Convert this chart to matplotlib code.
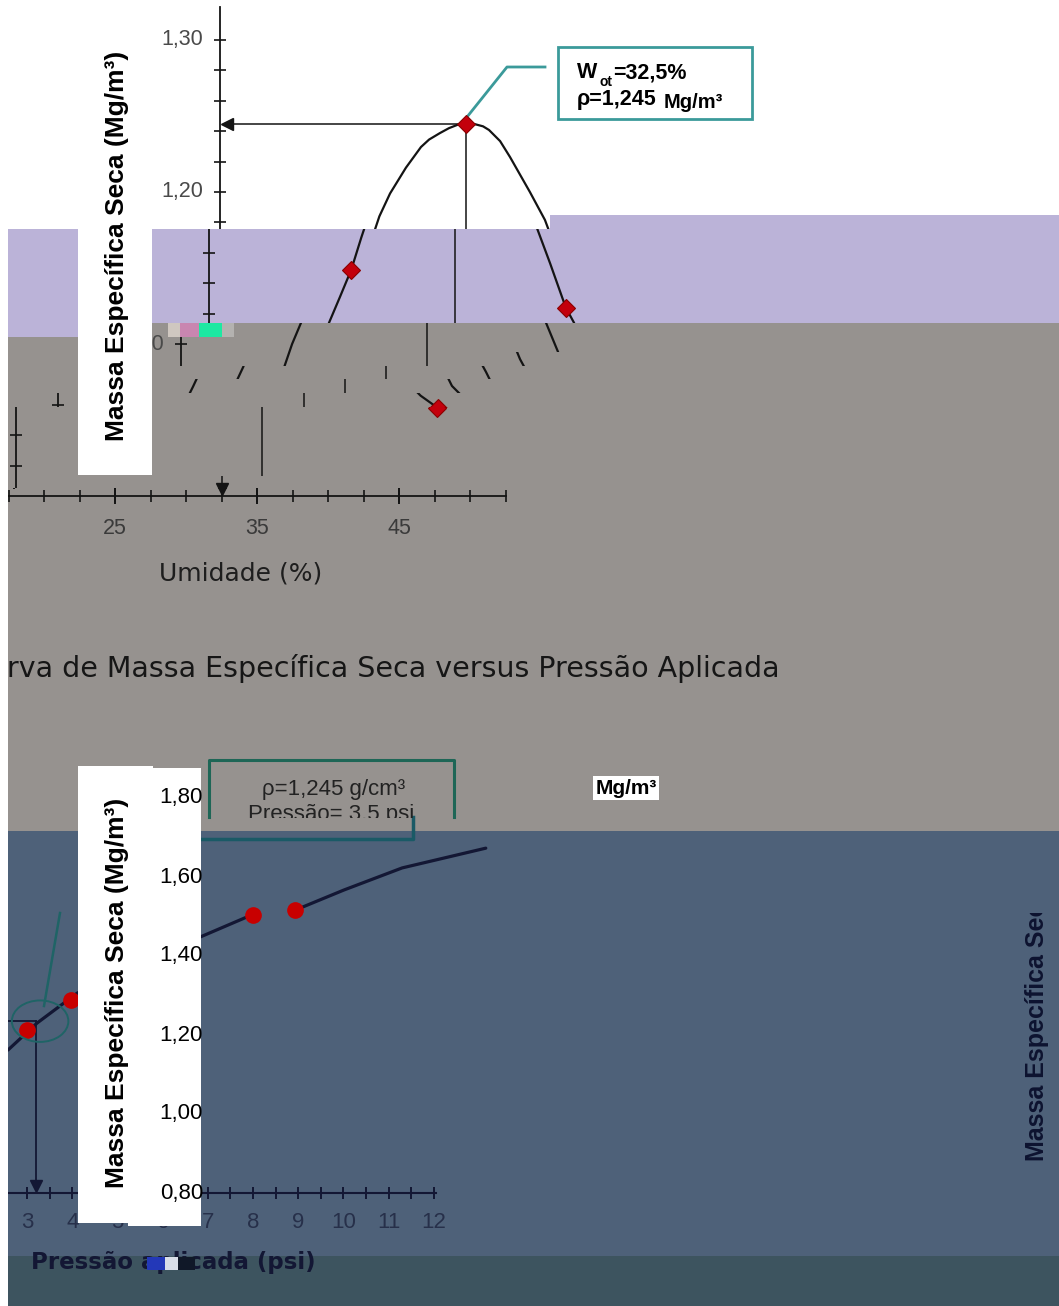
import numpy as np
import matplotlib
matplotlib.use("Agg")
import matplotlib.pyplot as plt
from matplotlib.patches import Rectangle, Ellipse
from matplotlib.transforms import blended_transform_factory

plt.rcParams['font.family'] = ['Liberation Sans', 'DejaVu Sans']

# ---------------- data ----------------
# Compaction curve (Umidade % vs Massa especifica seca Mg/m3)
umidade_pts = [21.0, 25.2, 32.5, 40.3, 44.8]
massa_pts = [1.057, 1.149, 1.245, 1.124, 1.058]
curva_umidade = [21.0, 21.8, 22.45, 23.0, 23.63, 24.4, 25.2, 25.9, 26.4, 27.15,
                 28.27, 29.33, 29.9, 30.67, 31.3, 31.9, 32.5, 33.1, 33.7, 34.12,
                 34.9, 35.6, 37.0, 38.06, 39.2, 40.3, 40.88, 41.94, 42.43, 42.92,
                 43.6, 44.8]
curva_massa = [1.057, 1.072, 1.085, 1.100, 1.114, 1.131, 1.149, 1.170, 1.184, 1.199,
               1.216, 1.2296, 1.2345, 1.2388, 1.2420, 1.2442, 1.245, 1.2447, 1.2432, 1.2408,
               1.2335, 1.223, 1.200, 1.1816, 1.153, 1.124, 1.114, 1.090, 1.0816, 1.0724,
               1.066, 1.058]
umidade_ot = 32.5
massa_max = 1.245
eixo_y_umidade = 15.2
umidade_fim = 52.5
umidade_ticks = [17.5, 20, 22.5, 25, 27.5, 30, 32.5, 35, 37.5, 40, 42.5, 45, 47.5, 50, 52.5]
umidade_labels = [15, 25, 35, 45]
massa_ticks = [1.00, 1.02, 1.04, 1.06, 1.08, 1.10, 1.12, 1.14, 1.16, 1.18, 1.20,
               1.22, 1.24, 1.26, 1.28, 1.30]
massa_labels = [1.00, 1.10, 1.20, 1.30]

# Pressure curve (Pressao aplicada psi vs Massa especifica seca)
pressao_pts = [3.0, 3.97, 8.0, 8.93]
massa_p_pts = [1.213, 1.289, 1.504, 1.516]
curva_pressao = [2.58, 3.22, 4.11, 6.83, 7.87, 8.05, np.nan, 8.93, 9.48, 10.01, 11.3, 13.15]
curva_massa_p = [1.162, 1.230, 1.306, 1.448, 1.499, 1.505, np.nan, 1.516, 1.542, 1.567,
                 1.623, 1.673]
pressao_ref = 3.2
massa_ref_p = 1.235
pressao_ticks = [2.5, 3, 3.5, 4, 4.5, 5, 5.5, 6, 6.5, 7, 7.5, 8, 8.5, 9, 9.5,
                 10, 10.5, 11, 11.5, 12]
pressao_labels = [3, 4, 5, 6, 7, 8, 9, 10, 11, 12]
massa_p_labels = [0.80, 1.00, 1.20, 1.40, 1.60, 1.80]

# ---------------- layout ----------------
W, H = 1059, 1306
GRAY = '#96928f'
LAV = '#bbb3d8'
BLUE = '#4e6179'
DARK = '#3d545f'
INK = '#141414'
NAVY = '#131734'

# top chart scale (px per unit)
PXW = 14.2
PXR = 1520.0
Y_TOP = 40.0
R_TOP = 1.30
# bottom chart scale
PXP = 45.2
X_P3 = 27.0
PXRP = 395.0
Y_P18 = 798.0


def fmt(v):
    return ('%.2f' % v).replace('.', ',')


fig = plt.figure(figsize=(W / 100, H / 100), dpi=100)
fig.patch.set_facecolor('white')

bg = fig.add_axes([0, 0, 1, 1])
bg.set_xlim(0, W)
bg.set_ylim(H, 0)
bg.axis('off')


def rect(ax, x0, y0, x1, y1, color, z=0):
    ax.add_patch(Rectangle((x0, y0), x1 - x0, y1 - y0, facecolor=color,
                           edgecolor='none', zorder=z))


# background bands
rect(bg, 8, 323, W, 831, GRAY)
rect(bg, 8, 229, W, 323, LAV)
rect(bg, 550, 215, W, 229, LAV)
rect(bg, 8, 323, 78, 337, LAV)
rect(bg, 8, 831, W, 1256, BLUE)
rect(bg, 8, 1256, W, H, DARK)


def clip_axes(x0, x1, y0, y1, z=3):
    ax = fig.add_axes([x0 / W, 1 - y1 / H, (x1 - x0) / W, (y1 - y0) / H], zorder=z)
    ax.set_xlim(x0, x1)
    ax.set_ylim(y1, y0)
    ax.axis('off')
    return ax


# ---------------- top chart drawn in shifted bands ----------------
def band_axes(x0, x1, y0, y1, p0):
    ax = fig.add_axes([x0 / W, 1 - y1 / H, (x1 - x0) / W, (y1 - y0) / H], zorder=1)
    ax.set_xlim(umidade_ot + (x0 - p0) / PXW, umidade_ot + (x1 - p0) / PXW)
    ax.set_ylim(R_TOP - (y1 - Y_TOP) / PXR, R_TOP - (y0 - Y_TOP) / PXR)
    ax.axis('off')
    return ax


def visible(band, xd, yd, left, right, half_h):
    x0, x1, y0, y1, p0 = band
    px = p0 + (xd - umidade_ot) * PXW
    py = Y_TOP + (R_TOP - yd) * PXR
    return (px + right > max(x0, 0) and px - left < x1 and
            py + half_h > y0 and py - half_h < y1)


def draw_top(ax, band):
    base = massa_ticks[0]
    ax.plot(curva_umidade, curva_massa, color=INK, lw=1.6, zorder=3)
    ax.plot(umidade_pts, massa_pts, ls='none', marker='D', ms=9.5,
            mfc='#c3000c', mec='#8a0000', mew=0.8, zorder=4)
    ax.plot([eixo_y_umidade, eixo_y_umidade], [base, 1.322], color=INK, lw=1.3)
    ax.plot([eixo_y_umidade, umidade_fim], [base, base], color=INK, lw=1.3)
    ax.plot([eixo_y_umidade] * len(massa_ticks), massa_ticks, ls='none', marker='_',
            ms=9, mew=1.2, color=INK)
    ax.plot(umidade_ticks, [base] * len(umidade_ticks), ls='none', marker='|',
            ms=8, mew=1.2, color=INK)
    ax.plot(umidade_labels, [base] * len(umidade_labels), ls='none', marker='|',
            ms=11, mew=1.4, color=INK)
    # reference lines at the optimum
    ax.plot([umidade_ot, umidade_ot], [massa_max, base + 8 / PXR], color=INK, lw=1.1)
    ax.plot([umidade_ot], [base + 7 / PXR], ls='none', marker='v', ms=9, color=INK)
    ax.plot([umidade_ot, eixo_y_umidade + 8 / PXW], [massa_max, massa_max], color=INK, lw=1.1)
    ax.plot([eixo_y_umidade + 7 / PXW], [massa_max], ls='none', marker='<', ms=9, color=INK)
    lx = eixo_y_umidade - 17 / PXW
    for v in massa_labels:
        if visible(band, lx, v, 45, 0, 7):
            ax.text(lx, v, fmt(v), ha='right', va='center',
                    fontsize=15.5, color='#4a4a4a', clip_on=True)
    for v in umidade_labels:
        if visible(band, v, base - 33 / PXR, 12, 12, 9):
            ax.text(v, base - 33 / PXR, str(v), ha='center', va='center',
                    fontsize=15.5, color='#3a3a3a', clip_on=True)
    xm = (eixo_y_umidade + umidade_fim) / 2
    if visible(band, xm, base - 77 / PXR, 85, 85, 11):
        ax.text(xm, base - 77 / PXR, 'Umidade (%)',
                ha='center', va='center', fontsize=18, family='DejaVu Sans',
                color='#1e1e1e', clip_on=True)


bands = [
    (8, W, 0, 229, 466),
    (8, W, 229, 323, 455),
    (8, W, 323, 352, 427),
    (8, 470, 352, 366, 427), (470, W, 352, 366, 386),
    (8, 430, 366, 379, 386), (430, W, 366, 379, 345),
    (8, 395, 379, 393, 345), (395, W, 379, 393, 304),
    (8, 360, 393, 407, 304), (360, W, 393, 407, 263),
    (8, W, 407, 476, 262),
    (8, 100, 476, 488, 262), (100, W, 476, 488, 221.5),
    (8, W, 488, 831, 221.5),
]
for b in bands:
    draw_top(band_axes(*b), b)

# annotation box of the top chart
TEAL = '#3b9a9a'
bg.add_patch(Rectangle((558, 47), 194, 72, facecolor='white', edgecolor=TEAL, lw=2, zorder=2))
bg.plot([467, 507, 545], [117, 67, 67], color=TEAL, lw=2, zorder=2)
bg.text(577, 73, 'W', fontsize=15.5, fontweight='bold', ha='left', va='center', zorder=3)
bg.text(599, 82, 'ot', fontsize=10, fontweight='bold', ha='left', va='center', zorder=3)
bg.text(613, 73, '=32,5%', fontsize=15.5, fontweight='bold', ha='left', va='center', zorder=3)
bg.text(577, 99, 'ρ=1,245', fontsize=15.5, fontweight='bold', ha='left', va='center', zorder=3)
bg.text(664, 102, 'Mg/m³', fontsize=14.5, fontweight='bold', ha='left', va='center', zorder=3)

# title (cut at the left edge)
tax = clip_axes(8, W, 620, 720)
tax.text(780, 669, 'Curva de Massa Específica Seca versus Pressão Aplicada', ha='right',
         va='center', fontsize=20.5, family='DejaVu Sans', color='#161616', clip_on=True)

# ---------------- bottom chart ----------------
x0p, x1p, y0p, y1p = 8, W, 831, H
axp = fig.add_axes([x0p / W, 1 - y1p / H, (x1p - x0p) / W, (y1p - y0p) / H], zorder=1)
axp.set_xlim(3 + (x0p - X_P3) / PXP, 3 + (x1p - X_P3) / PXP)
axp.set_ylim(1.80 - (y1p - Y_P18) / PXRP, 1.80 - (y0p - Y_P18) / PXRP)
axp.axis('off')
base_p = massa_p_labels[0]
axp.plot(curva_pressao, curva_massa_p, color=NAVY, lw=2.3, zorder=3, solid_capstyle='round')
axp.plot(pressao_pts, massa_p_pts, ls='none', marker='o', ms=11, mfc='#c80000',
         mec='#c80000', zorder=4)
axp.plot([0, 12.05], [base_p, base_p], color=NAVY, lw=1.5)
axp.plot(pressao_ticks, [base_p] * len(pressao_ticks), ls='none', marker='|', ms=8,
         mew=1.4, color=NAVY)
for v in pressao_labels:
    axp.text(v, base_p - 30 / PXRP, str(v), ha='center', va='center', fontsize=16,
             color='#27304a', clip_on=True)
axp.text(6.23, base_p - 70 / PXRP, 'Pressão aplicada (psi)', ha='center', va='center',
         fontsize=16.5, fontweight='bold', family='DejaVu Sans', color=NAVY, clip_on=True)
axp.plot([0, pressao_ref], [massa_ref_p, massa_ref_p], color=NAVY, lw=1.3)
axp.plot([pressao_ref, pressao_ref], [massa_ref_p, base_p + 8 / PXRP], color=NAVY, lw=1.3)
axp.plot([pressao_ref], [base_p + 7 / PXRP], ls='none', marker='v', ms=9, color=NAVY)
axp.add_patch(Ellipse((3.29, massa_ref_p), 1.25, 0.105, fill=False, edgecolor='#1f6466',
                      lw=1.4, zorder=5))
bg.plot([44, 60], [1006, 913], color='#1f6466', lw=1.8, zorder=2)

# annotation box of the bottom chart (broken by the image glitch)
BOXC = '#1e6656'
bg.plot([209, 209, 454, 454], [817, 760, 760, 817], color=BOXC, lw=2.2, zorder=2)
bg.plot([200, 413, 413], [839, 839, 817], color='#1a5a66', lw=2.5, zorder=2)
bg.text(334, 790, 'ρ=1,245 g/cm³', ha='center', va='center', fontsize=16,
        color='#222222', zorder=3)
pax = clip_axes(200, 460, 740, 818)
pax.text(331, 820, 'Pressão= 3,5 psi', ha='center', va='baseline', fontsize=16,
         color='#222222', clip_on=True)
bg.text(626, 788, 'Mg/m³', ha='center', va='center', fontsize=15, fontweight='bold',
        bbox=dict(facecolor='white', edgecolor='none', pad=1.5), zorder=3)

# ---------------- overlay: white label boxes ----------------
fg = fig.add_axes([0, 0, 1, 1], zorder=5)
fg.set_xlim(0, W)
fg.set_ylim(H, 0)
fg.axis('off')
rect(fg, 78, 229, 152, 475, 'white', 1)
rect(fg, 78, 766, 153, 1223, 'white', 1)
rect(fg, 128, 768, 201, 1226, 'white', 1)
fg.text(117, 246, 'Massa Específica Seca (Mg/m³)', rotation=90, ha='center', va='center',
        fontsize=19, fontweight='bold', color='black', zorder=2)
fg.text(117, 993, 'Massa Específica Seca (Mg/m³)', rotation=90, ha='center', va='center',
        fontsize=19, fontweight='bold', color='black', zorder=2)
blend = blended_transform_factory(fg.transData, axp.transData)
for v in massa_p_labels:
    fg.text(203, v, fmt(v)[:4], transform=blend,
            ha='right', va='center', fontsize=16, color='black', zorder=2)

# glitch noise patches
for (a, b, c) in [(168, 180, '#cfc7c0'), (180, 199, '#c986b0'), (199, 222, '#1de8a2'),
                  (222, 234, '#b4b2b0')]:
    rect(fg, a, 323, b, 337, c, 1)
for (a, b, c) in [(147, 165, '#2338b8'), (165, 178, '#d8dde8'), (178, 195, '#101828')]:
    rect(fg, a, 1257, b, 1270, c, 1)

# right side label, cut at the top
rax = clip_axes(1000, W, 913, 1256, z=6)
rax.text(1037, 1161, 'Massa Específica Seca (Mg/m³)', rotation=90, ha='center',
         va='bottom', fontsize=18, fontweight='bold', color='#0d1330', clip_on=True)

fig.savefig('out.png', dpi=100, facecolor='white')
